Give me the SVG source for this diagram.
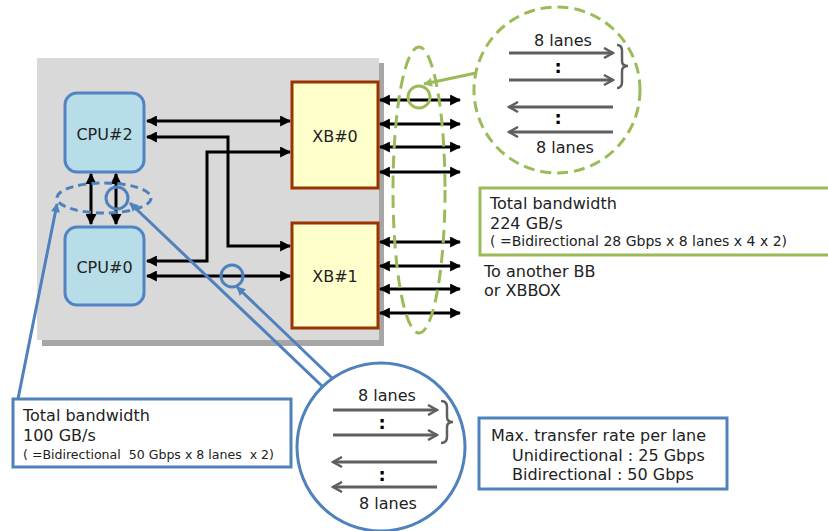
<svg xmlns="http://www.w3.org/2000/svg" width="828" height="531" viewBox="0 0 828 531">
<style>
text{font-family:"DejaVu Sans","Liberation Sans",sans-serif;font-size:16px;fill:#222}
.mid{text-anchor:middle}
.sm{font-size:13px}
.blk{stroke:#000;stroke-width:3;fill:none;marker-start:url(#ba);marker-end:url(#ba)}
.gry{stroke:#5f5f5f;stroke-width:3;fill:none;marker-end:url(#ga)}
.blu{stroke:#4f81bd;stroke-width:3;fill:none}
.grn{stroke:#9bbb59;stroke-width:3;fill:none}
.cpu{fill:#b7dde8;stroke:#5283c4;stroke-width:3}
.xb{fill:#ffffcc;stroke:#993300;stroke-width:3}
.dot{font-weight:bold;fill:#000;font-size:18px}
</style>
<defs>
<marker id="ba" viewBox="0 0 10 10" refX="9" refY="5" markerWidth="11" markerHeight="11" markerUnits="userSpaceOnUse" orient="auto-start-reverse"><path d="M0,0 L10,5 L0,10 z" fill="#000"/></marker>
<marker id="ga" viewBox="0 0 12 12" refX="10" refY="6" markerWidth="12" markerHeight="12" markerUnits="userSpaceOnUse" orient="auto"><path d="M1,1 L10,6 L1,11" fill="none" stroke="#5f5f5f" stroke-width="2.5"/></marker>
<marker id="bl" viewBox="0 0 10 10" refX="9" refY="5" markerWidth="10" markerHeight="9" markerUnits="userSpaceOnUse" orient="auto"><path d="M0,0 L10,5 L0,10 z" fill="#4f81bd"/></marker>
<marker id="gr" viewBox="0 0 10 10" refX="9" refY="5" markerWidth="10" markerHeight="9" markerUnits="userSpaceOnUse" orient="auto"><path d="M0,0 L10,5 L0,10 z" fill="#9bbb59"/></marker>
</defs>

<g id="board">
<rect x="42" y="63" width="342" height="283" fill="#a6a6a6"/>
<rect x="37" y="58" width="342" height="282" fill="#d9d9d9"/>
</g>

<g id="cpu2"><rect class="cpu" x="65" y="93" width="79" height="79" rx="12"/><text class="mid" x="104.5" y="140">CPU#2</text></g>
<g id="cpu0"><rect class="cpu" x="65" y="227" width="79" height="78" rx="12"/><text class="mid" x="104.5" y="273">CPU#0</text></g>
<g id="xb0"><rect class="xb" x="292" y="82" width="86" height="106"/><text class="mid" x="335" y="142">XB#0</text></g>
<g id="xb1"><rect class="xb" x="292" y="223" width="86" height="105"/><text class="mid" x="335" y="282">XB#1</text></g>

<g id="connectors">
<line class="blk" x1="147" y1="121" x2="290" y2="121"/>
<path class="blk" d="M147,137 H228 V246 H290"/>
<path class="blk" d="M147,261 H207 V152 H290"/>
<line class="blk" x1="147" y1="276" x2="290" y2="276"/>
<line class="blk" x1="91" y1="174" x2="91" y2="224"/>
<line class="blk" x1="116" y1="174" x2="116" y2="224"/>
<line class="blk" x1="380" y1="100" x2="460" y2="100"/>
<line class="blk" x1="380" y1="124" x2="460" y2="124"/>
<line class="blk" x1="380" y1="147" x2="460" y2="147"/>
<line class="blk" x1="380" y1="172" x2="460" y2="172"/>
<line class="blk" x1="380" y1="242" x2="460" y2="242"/>
<line class="blk" x1="380" y1="266" x2="460" y2="266"/>
<line class="blk" x1="380" y1="289" x2="460" y2="289"/>
<line class="blk" x1="380" y1="313" x2="460" y2="313"/>
</g>

<g id="cpu-link-callout">
<ellipse class="blu" cx="104" cy="198" rx="47" ry="15" stroke-dasharray="8 5"/>
<circle class="blu" cx="117" cy="198" r="11"/>
<circle class="blu" cx="232" cy="276" r="11"/>
<line class="blu" x1="18" y1="399" x2="57" y2="204" marker-end="url(#bl)"/>
<line class="blu" x1="322" y1="386" x2="130" y2="203" marker-end="url(#bl)"/>
<line class="blu" x1="332" y1="378" x2="237" y2="287" marker-end="url(#bl)"/>
</g>

<g id="blue-circle">
<circle class="blu" cx="381" cy="447" r="84" fill="#fff"/>
<text class="mid" x="387" y="401">8 lanes</text>
<line class="gry" x1="333" y1="410" x2="437" y2="410"/>
<text class="dot mid" x="382" y="429">:</text>
<line class="gry" x1="333" y1="435" x2="437" y2="435"/>
<path d="M441,401 Q447,401 447,407 V417 Q447,422 453,422 Q447,422 447,427 V437 Q447,443 441,443" fill="none" stroke="#5f5f5f" stroke-width="2.5"/>
<line class="gry" x1="437" y1="462" x2="333" y2="462"/>
<text class="dot mid" x="382" y="481">:</text>
<line class="gry" x1="437" y1="487" x2="333" y2="487"/>
<text class="mid" x="388" y="509">8 lanes</text>
</g>

<g id="cpu-bw-box">
<rect class="blu" x="13" y="399" width="278" height="68" fill="#fff"/>
<text x="23" y="421">Total bandwidth</text>
<text x="23" y="441">100 GB/s</text>
<text class="sm" x="23" y="459" textLength="251" lengthAdjust="spacingAndGlyphs" xml:space="preserve">( =Bidirectional  50 Gbps x 8 lanes  x 2)</text>
</g>

<g id="rate-box">
<rect class="blu" x="479" y="418" width="248" height="71" fill="#fff"/>
<text x="491" y="441">Max. transfer rate per lane</text>
<text x="512" y="461">Unidirectional : 25 Gbps</text>
<text x="512" y="480">Bidirectional : 50 Gbps</text>
</g>

<g id="xb-link-callout">
<ellipse class="grn" cx="419" cy="190" rx="26" ry="143" stroke-dasharray="13 7"/>
<circle class="grn" cx="419" cy="97" r="11"/>
<line class="grn" x1="476" y1="73" x2="424" y2="84" marker-end="url(#gr)"/>
</g>

<g id="green-circle">
<circle class="grn" cx="557" cy="90" r="83" stroke-dasharray="11 6" fill="#fff"/>
<text class="mid" x="563" y="46">8 lanes</text>
<line class="gry" x1="509" y1="53" x2="613" y2="53"/>
<text class="dot mid" x="558" y="73">:</text>
<line class="gry" x1="509" y1="80" x2="613" y2="80"/>
<path d="M617,45 Q622,45 622,51 V61 Q622,66 628,66 Q622,66 622,71 V82 Q622,88 617,88" fill="none" stroke="#5f5f5f" stroke-width="2.5"/>
<line class="gry" x1="613" y1="107" x2="509" y2="107"/>
<text class="dot mid" x="558" y="124">:</text>
<line class="gry" x1="613" y1="132" x2="509" y2="132"/>
<text class="mid" x="565" y="153">8 lanes</text>
</g>

<g id="xb-bw-box">
<rect class="grn" x="480" y="188" width="360" height="67" fill="#fff"/>
<text x="490" y="209">Total bandwidth</text>
<text x="490" y="229">224 GB/s</text>
<text class="sm" x="490" y="246" style="font-size:14px" textLength="297" lengthAdjust="spacingAndGlyphs">( =Bidirectional 28 Gbps x 8 lanes x 4 x 2)</text>
</g>

<g id="dest-label">
<text x="484" y="277">To another BB</text>
<text x="484" y="296">or XBBOX</text>
</g>
</svg>
